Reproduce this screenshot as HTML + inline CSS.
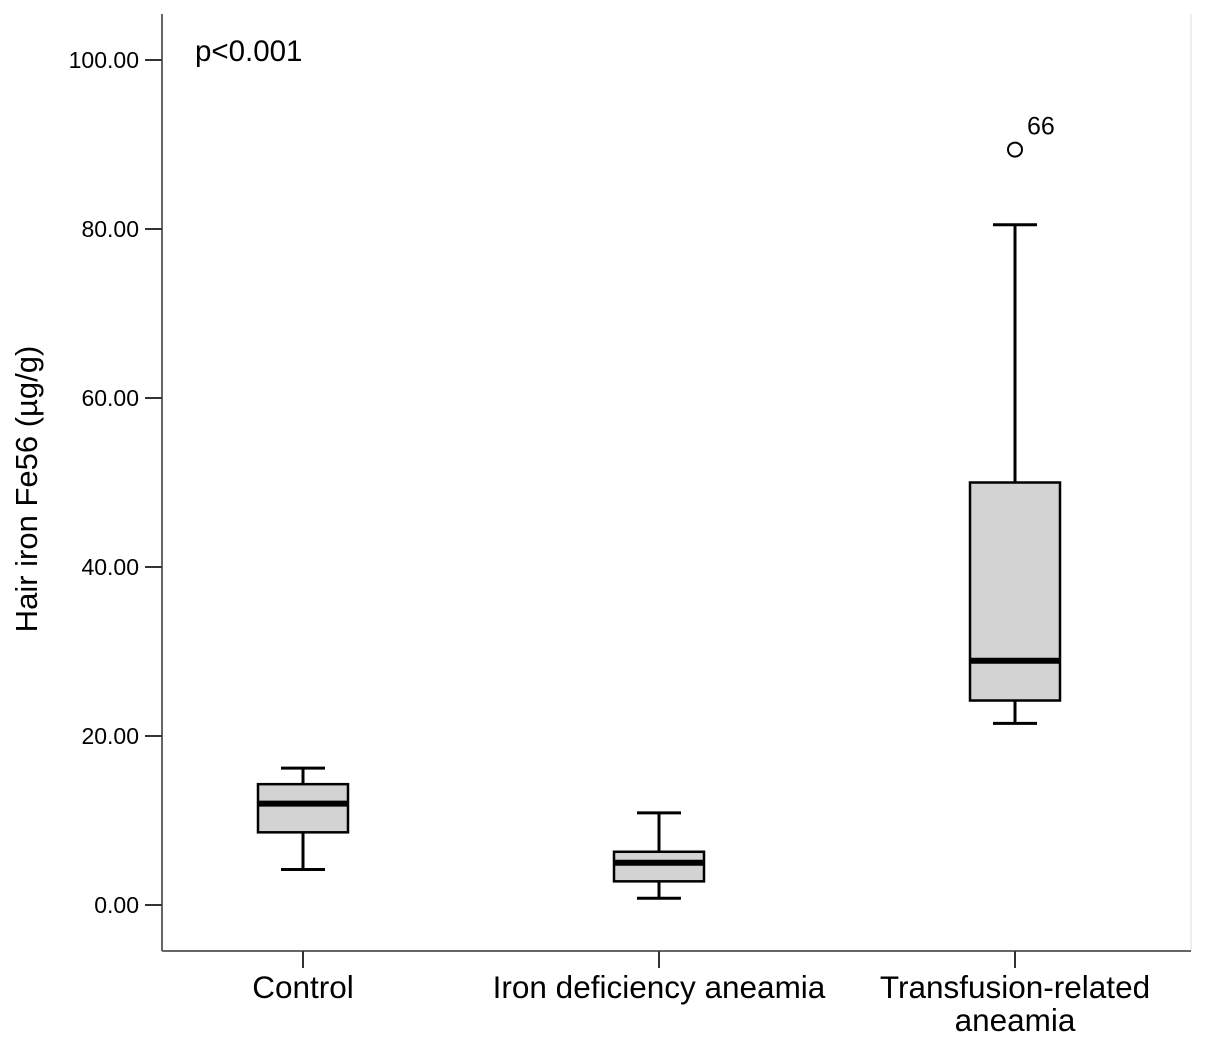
<!DOCTYPE html>
<html><head><meta charset="utf-8"><style>
body{margin:0;background:#fff;width:1205px;height:1044px;overflow:hidden}
svg text{font-family:"Liberation Sans",Arial,sans-serif;fill:#000}
</style></head><body>
<svg id="chart" width="1205" height="1044" viewBox="0 0 1205 1044">
<line x1="1191" y1="14" x2="1191" y2="951" stroke="#eee" stroke-width="2"/>
<line x1="162" y1="14" x2="162" y2="951" stroke="#666" stroke-width="2"/>
<line x1="162" y1="951" x2="1191" y2="951" stroke="#666" stroke-width="2"/>
<text x="195" y="61" font-size="29.5">p&lt;0.001</text>
<text transform="translate(37,489) rotate(-90)" text-anchor="middle" font-size="31">Hair iron Fe56 (µg/g)</text>
<g id="yticks"></g><g id="boxes"></g>
</svg>
<script>
const categories=["Control","Iron deficiency aneamia","Transfusion-related|aneamia"];
const whiskerLow=[4.2,0.8,21.5];
const q1=[8.6,2.8,24.2];
const median=[12.0,5.0,28.9];
const q3=[14.3,6.3,50.0];
const whiskerHigh=[16.2,10.9,80.5];
const outlierValues=[null,null,89.4];
const outlierLabels=["","","66"];
const yTickValues=[0,20,40,60,80,100];
const yTickLabels=["0.00","20.00","40.00","60.00","80.00","100.00"];

const NS="http://www.w3.org/2000/svg";
const y=v=>905-v*8.45;
const x=i=>303+i*356;
function mk(tag,attrs,parent){const e=document.createElementNS(NS,tag);for(const k in attrs)e.setAttribute(k,attrs[k]);parent.appendChild(e);return e;}
const yt=document.getElementById('yticks');
yTickValues.forEach((v,i)=>{
  const l=mk('line',{x1:145,x2:162,y1:y(v),y2:y(v),stroke:'#333','stroke-width':2},yt);
  
  
  const t=mk('text',{x:139,y:y(v)+8,'text-anchor':'end','font-size':23},yt);
  
  
  t.textContent=yTickLabels[i];
});
const g=document.getElementById('boxes');
categories.forEach((c,i)=>{
  const cx=x(i);
  const tk=mk('line',{x1:cx,x2:cx,y1:951,y2:968,stroke:'#333','stroke-width':2},g);
  
  
  const parts=c.split('|');
  parts.forEach((p,j)=>{
    const t=mk('text',{x:cx,y:998+j*33,'text-anchor':'middle','font-size':31.5},g);
    
    
    t.textContent=p;
  });
  const w1=mk('line',{x1:cx,x2:cx,y1:y(whiskerLow[i]),y2:y(q1[i]),stroke:'#000','stroke-width':3},g);
  
  
  const w2=mk('line',{x1:cx,x2:cx,y1:y(q3[i]),y2:y(whiskerHigh[i]),stroke:'#000','stroke-width':3},g);
  
  
  const c1=mk('line',{x1:cx-22,x2:cx+22,y1:y(whiskerLow[i]),y2:y(whiskerLow[i]),stroke:'#000','stroke-width':3},g);
  
  
  const c2=mk('line',{x1:cx-22,x2:cx+22,y1:y(whiskerHigh[i]),y2:y(whiskerHigh[i]),stroke:'#000','stroke-width':3},g);
  
  
  const b=mk('rect',{x:cx-45,y:y(q3[i]),width:90,height:y(q1[i])-y(q3[i]),fill:'#d3d3d3',stroke:'#000','stroke-width':2.5},g);
  
  
  const m=mk('line',{x1:cx-45,x2:cx+45,y1:y(median[i]),y2:y(median[i]),stroke:'#000','stroke-width':6},g);
  
  
  if(outlierValues[i]!==null){
    const o=mk('circle',{cx:cx,cy:y(outlierValues[i]),r:7,fill:'#fff',stroke:'#000','stroke-width':2},g);
    
    
    const ol=mk('text',{x:cx+12,y:y(outlierValues[i])-15,'font-size':25},g);
    
    
    ol.textContent=outlierLabels[i];
  }
});
</script>
</body></html>
